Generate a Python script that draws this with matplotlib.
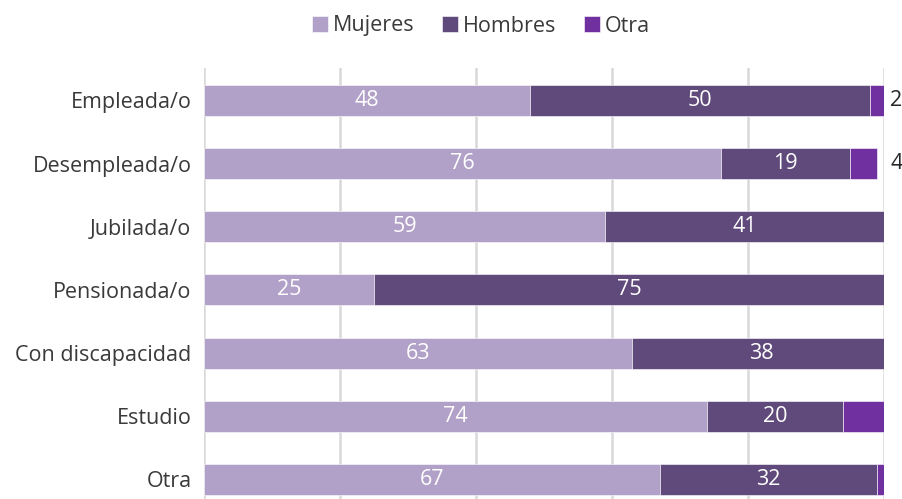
import numpy as np
import matplotlib.pyplot as plt

plt.rcParams['font.family'] = ['Open Sans', 'DejaVu Sans']

categorias = ["Empleada/o", "Desempleada/o", "Jubilada/o", "Pensionada/o",
              "Con discapacidad", "Estudio", "Otra"]
mujeres = [48, 76, 59, 25, 63, 74, 67]
hombres = [50, 19, 41, 75, 38, 20, 32]
otra = [2, 4, 0, 0, 0, 6, 1]
# solo se rotulan los valores de "Otra" que aparecen fuera de la barra
otra_etiquetas = ["2", "4", "", "", "", "", ""]

colores = ["#B1A0C7", "#604A7B", "#7030A0"]
series = ["Mujeres", "Hombres", "Otra"]

fig = plt.figure(figsize=(9.03, 4.99), dpi=100)
ax = fig.add_axes([204 / 903, 0, 680 / 903, 1 - 68 / 499])

y = np.arange(len(categorias))
alto = 0.49
izq = np.zeros(len(categorias))
for nombre, vals, col in zip(series, [mujeres, hombres, otra], colores):
    vals = np.array(vals, dtype=float)
    barras = ax.barh(y, vals, left=izq, height=alto, color=col, label=nombre,
                     edgecolor="white", linewidth=0.4, zorder=2)
    if nombre != "Otra":
        for b, v in zip(barras, vals):
            ax.text(b.get_x() + b.get_width() / 2, b.get_y() + b.get_height() / 2,
                    f"{v:.0f}", ha="center", va="center", color="white",
                    fontsize=15.5, zorder=3)
    izq += vals

for yi, txt in zip(y, otra_etiquetas):
    if txt:
        ax.text(100.9, yi, txt, ha="left", va="center", color="#262626",
                fontsize=15.5, clip_on=False)

ax.set_xlim(0, 100)
ax.set_ylim(6.31, -0.514)
ax.set_xticks(np.arange(0, 101, 20))
ax.set_xticklabels([])
ax.tick_params(axis="x", length=0)
ax.tick_params(axis="y", length=0, pad=9, labelsize=15.5, labelcolor="#3A3A3A")
ax.set_yticks(y)
ax.set_yticklabels(categorias)
ax.grid(axis="x", color="#D9D9D9", linewidth=1.8, zorder=0)
for s in ax.spines.values():
    s.set_visible(False)

fig.legend(loc="center", bbox_to_anchor=(481 / 903, 1 - 26 / 499), ncol=3,
           frameon=False, fontsize=15.5, handlelength=0.75, handleheight=0.75,
           handletextpad=0.2, columnspacing=1.3, labelcolor="#3A3A3A")

fig.savefig("out.png", dpi=100)
